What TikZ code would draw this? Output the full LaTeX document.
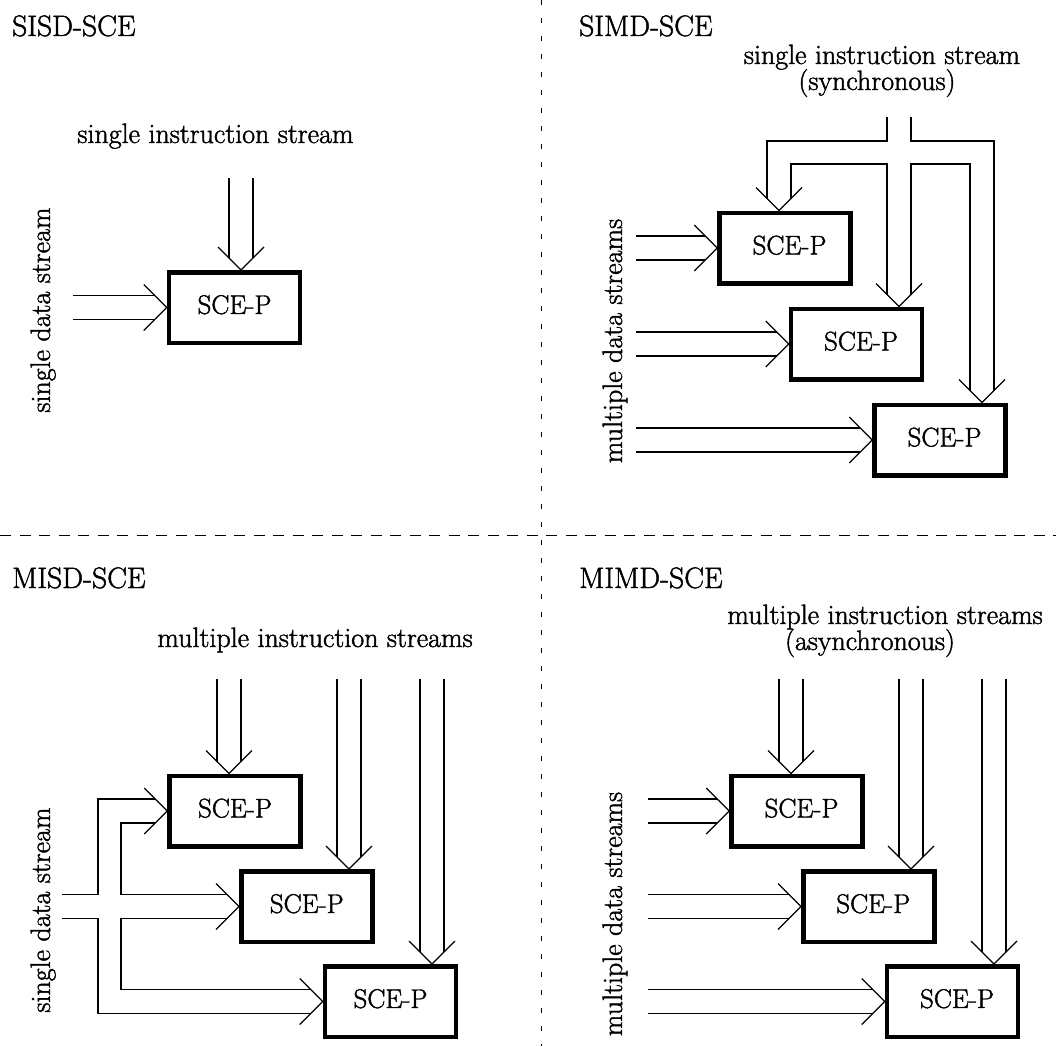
\documentclass[tikz,border=0pt]{standalone}
\usepackage{fontspec}
\setmainfont{lmroman17-regular.otf}[FakeBold=1.5]
\usetikzlibrary{calc}

% one unit = 1pt, y grows downwards
\tikzset{
  x=1pt, y=-1pt,
  flow/.style={line width=1.3pt, line cap=butt, line join=miter},
  proc/.style={draw, line width=4.5pt, minimum width=131pt, minimum height=70.5pt,
    inner sep=0pt, outer sep=2.25pt, text depth=6pt,
    font=\fontsize{27}{32}\selectfont},
  procR/.style={proc, execute at begin node=\hspace*{9pt}},
  title/.style={anchor=base west, inner sep=0pt, font=\fontsize{29.6}{34}\selectfont},
  lbl/.style={anchor=base, inner sep=0pt, font=\fontsize{28}{33}\selectfont},
  sidelbl/.style={lbl, rotate=90},
  vdiv/.style={line width=1pt, dash pattern=on 5pt off 13pt},
  hdiv/.style={line width=1pt, dash pattern=on 11pt off 8.5pt}
}

% V-shaped heads of the double-line streams
\newcommand\headdown[1]{\draw[flow] ($(#1)+(-23,-23)$) -- (#1) -- ($(#1)+(23,-23)$);}
\newcommand\headright[1]{\draw[flow] ($(#1)+(-23,-23)$) -- (#1) -- ($(#1)+(-23,23)$);}
% instruction stream from above: #1 tip, #2 y where the pair begins
\newcommand\instrin[2]{%
  \draw[flow] ($(#1 |- 0,#2)+(-12,0)$) -- ($(#1)+(-12,-12)$);
  \draw[flow] ($(#1 |- 0,#2)+(12,0)$) -- ($(#1)+(12,-12)$);
  \headdown{#1}}
% data stream from the left: #1 tip, #2 x where the pair begins
\newcommand\datain[2]{%
  \draw[flow] ($(#2,0 |- #1)+(0,-12)$) -- ($(#1)+(-12,-12)$);
  \draw[flow] ($(#2,0 |- #1)+(0,12)$) -- ($(#1)+(-12,12)$);
  \headright{#1}}

\begin{document}
\begin{tikzpicture}
\useasboundingbox (0,0) rectangle (1056,1046);

% quadrant dividers
\draw[vdiv] (541,0) -- (541,1046);
\draw[hdiv] (0,535) -- (1056,535);

% ---------------- SISD ----------------
\node[title] (t-sisd) at (12,36) {SISD-SCE};
\node[lbl] (l-sisd-i) at (215.5,143) {single instruction stream};
\node[sidelbl] (l-sisd-d) at (50,310) {single data stream};
\node[proc] (sisd) at (234.5,307.5) {SCE-P};
\coordinate (sisd-top) at (241,0 |- sisd.north);
\coordinate (sisd-left) at (sisd.west);
\instrin{sisd-top}{178}
\datain{sisd-left}{73}

% ---------------- SIMD ----------------
\node[title] (t-simd) at (579,36) {SIMD-SCE};
\node[lbl] (l-simd-i) at (882,64) {single instruction stream};
\node[lbl] (l-simd-s) at (877,90) {(synchronous)};
\node[sidelbl] (l-simd-d) at (622,341) {multiple data streams};
\node[procR] (simd1) at (785,248) {SCE-P};
\node[procR] (simd2) at (856.5,344) {SCE-P};
\node[procR] (simd3) at (940,440) {SCE-P};
\coordinate (simd1-top) at (779,0 |- simd1.north);
\coordinate (simd2-top) at (899,0 |- simd2.north);
\coordinate (simd3-top) at (982,0 |- simd3.north);
% one synchronous stream split over the three processors
\draw[flow] (887,117) -- (887,141) -- (767,141) -- ($(simd1-top)+(-12,-12)$);
\draw[flow] ($(simd1-top)+(12,-12)$) -- (791,164) -- (887,164) -- ($(simd2-top)+(-12,-12)$);
\draw[flow] ($(simd2-top)+(12,-12)$) -- (911,164) -- (970,164) -- ($(simd3-top)+(-12,-12)$);
\draw[flow] (911,117) -- (911,141) -- (994,141) -- ($(simd3-top)+(12,-12)$);
\headdown{simd1-top}
\headdown{simd2-top}
\headdown{simd3-top}
\datain{simd1.west}{636}
\datain{simd2.west}{636}
\datain{simd3.west}{636}

% ---------------- MISD ----------------
\node[title] (t-misd) at (12,588) {MISD-SCE};
\node[lbl] (l-misd-i) at (315,647) {multiple instruction streams};
\node[sidelbl] (l-misd-d) at (50,910) {single data stream};
\node[proc] (misd1) at (235,811) {SCE-P};
\node[proc] (misd2) at (306.75,906.5) {SCE-P};
\node[proc] (misd3) at (390.5,1001.5) {SCE-P};
\coordinate (misd1-top) at (229,0 |- misd1.north);
\coordinate (misd2-top) at (349,0 |- misd2.north);
\coordinate (misd3-top) at (432,0 |- misd3.north);
\instrin{misd1-top}{679}
\instrin{misd2-top}{679}
\instrin{misd3-top}{679}
% one data stream fanned out to the three processors
\coordinate (misd-in) at (62,906.5);
\draw[flow] ($(misd-in)+(0,-12)$) -- (98,894.5) |- ($(misd1.west)+(-12,-12)$);
\draw[flow] ($(misd1.west)+(-12,12)$) -| (121,894.5) -- ($(misd2.west)+(-12,-12)$);
\draw[flow] ($(misd2.west)+(-12,12)$) -| (121,989.5) -- ($(misd3.west)+(-12,-12)$);
\draw[flow] ($(misd-in)+(0,12)$) -- (98,918.5) |- ($(misd3.west)+(-12,12)$);
\headright{misd1.west}
\headright{misd2.west}
\headright{misd3.west}

% ---------------- MIMD ----------------
\node[title] (t-mimd) at (579,588) {MIMD-SCE};
\node[lbl] (l-mimd-i) at (885,624) {multiple instruction streams};
\node[lbl] (l-mimd-s) at (870,650) {(asynchronous)};
\node[sidelbl] (l-mimd-d) at (622,914) {multiple data streams};
\node[procR] (mimd1) at (797,811) {SCE-P};
\node[procR] (mimd2) at (868.75,906.5) {SCE-P};
\node[procR] (mimd3) at (952.5,1001.5) {SCE-P};
\coordinate (mimd1-top) at (791,0 |- mimd1.north);
\coordinate (mimd2-top) at (911,0 |- mimd2.north);
\coordinate (mimd3-top) at (994,0 |- mimd3.north);
\instrin{mimd1-top}{679}
\instrin{mimd2-top}{679}
\instrin{mimd3-top}{679}
\datain{mimd1.west}{648}
\datain{mimd2.west}{648}
\datain{mimd3.west}{648}
\end{tikzpicture}
\end{document}
